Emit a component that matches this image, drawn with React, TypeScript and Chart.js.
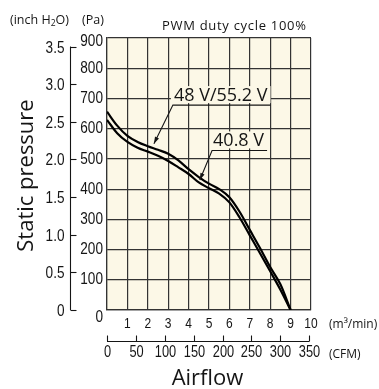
import React, { useEffect, useRef } from 'react';
import { Chart, registerables } from 'chart.js';

Chart.register(...registerables);

// ---------- data ----------
const airflow = [0, 0.5, 1, 1.5, 2, 2.5, 3, 3.5, 4, 4.5, 5, 5.5, 6, 6.5, 7, 7.5, 8, 8.5, 9];
const pressure48V = [656, 610, 576, 556, 542, 530, 517, 495, 466, 440, 418, 400, 373, 325, 265, 205, 142, 85, 0];
const pressure40V = [629, 585, 556, 537, 524, 510, 493, 472, 450, 422, 403, 385, 356, 306, 247, 188, 128, 67, 0];
const seriesNames = ['48 V/55.2 V', '40.8 V'];

const paTicks = [0, 100, 200, 300, 400, 500, 600, 700, 800, 900];
const airflowTicks = [1, 2, 3, 4, 5, 6, 7, 8, 9, 10];
const inchTicks = [0, 0.5, 1, 1.5, 2, 2.5, 3, 3.5];
const cfmTicks = [0, 50, 100, 150, 200, 250, 300, 350];

const PA_PER_INCH = 249.089;
const CFM_PER_M3MIN = 35.3147;

const titleText = 'PWM duty cycle 100%';
const yAxisTitle = 'Static pressure';
const xAxisTitle = 'Airflow';

// annotation anchors (data coordinates): label underline start, arrow tip
const annot48 = { lx: 3.23, ly: 678, tx: 2.3, ty: 550 };
const annot40 = { lx: 5.15, ly: 528, tx: 4.55, ty: 430 };

// ---------- styles ----------
const NARROW_BASE = "'Liberation Sans', Arial, sans-serif";
const SANS = "'Open Sans', 'Liberation Sans', sans-serif";
const GRID = '#333333';
const INK = '#151515';
const CREAM = '#fcf8e7';

function narrowText(ctx: any, text: string, x: number, y: number, size: number, align: string) {
  ctx.save();
  ctx.font = `${size}px ${NARROW_BASE}`;
  ctx.textAlign = align;
  ctx.textBaseline = 'middle';
  ctx.translate(x, y);
  ctx.scale(0.8, 1);
  ctx.fillText(text, 0, 0);
  ctx.restore();
}

const decorPlugin = {
  id: 'decor',
  beforeDraw(chart: any) {
    const { ctx, chartArea: a } = chart;
    ctx.save();
    ctx.fillStyle = '#ffffff';
    ctx.fillRect(0, 0, chart.width, chart.height);
    ctx.fillStyle = CREAM;
    ctx.fillRect(a.left, a.top, a.right - a.left, a.bottom - a.top);
    ctx.restore();
  },
  afterDatasetsDraw(chart: any) {
    const { ctx } = chart;
    const x = chart.scales.x;
    const y = chart.scales.y;
    ctx.save();
    const drawAnnot = (an: any, text: string) => {
      const ux = x.getPixelForValue(an.lx);
      const uy = y.getPixelForValue(an.ly);
      const tx = x.getPixelForValue(an.tx);
      const ty = y.getPixelForValue(an.ty);
      ctx.font = `18px ${SANS}`;
      const w = ctx.measureText(text).width;
      ctx.fillStyle = CREAM;
      ctx.fillRect(ux - 2, uy - 19, w + 6, 17);
      ctx.fillStyle = INK;
      ctx.textAlign = 'left';
      ctx.textBaseline = 'alphabetic';
      ctx.fillText(text, ux + 1, uy - 4.5);
      ctx.strokeStyle = INK;
      ctx.lineWidth = 1.1;
      ctx.beginPath();
      ctx.moveTo(ux + w + 4, uy);
      ctx.lineTo(ux, uy);
      ctx.lineTo(tx, ty);
      ctx.stroke();
      const ang = Math.atan2(ty - uy, tx - ux);
      const L = 7, H = 2.2;
      ctx.beginPath();
      ctx.moveTo(tx, ty);
      ctx.lineTo(tx - L * Math.cos(ang) + H * Math.sin(ang), ty - L * Math.sin(ang) - H * Math.cos(ang));
      ctx.lineTo(tx - L * Math.cos(ang) - H * Math.sin(ang), ty - L * Math.sin(ang) + H * Math.cos(ang));
      ctx.closePath();
      ctx.fill();
    };
    drawAnnot(annot48, seriesNames[0]);
    drawAnnot(annot40, seriesNames[1]);
    ctx.restore();
  },
  afterDraw(chart: any) {
    const { ctx } = chart;
    const x = chart.scales.x;
    const y = chart.scales.y;
    ctx.save();
    ctx.fillStyle = INK;
    ctx.strokeStyle = INK;
    ctx.lineWidth = 1.1;

    // Pa tick labels (end labels nudged inward as in the original)
    paTicks.forEach((v, i) => {
      let py = y.getPixelForValue(v);
      if (i === 0) py += 7.5;
      if (i === paTicks.length - 1) py += 3.5;
      narrowText(ctx, String(v), x.left - 4, py, 17, 'right');
    });

    // airflow tick labels
    airflowTicks.forEach((v) => {
      narrowText(ctx, String(v), x.getPixelForValue(v), 323.5, 15, 'center');
    });

    // inch H2O axis
    const axX = 70.5;
    const yTop = y.getPixelForValue(inchTicks[inchTicks.length - 1] * PA_PER_INCH);
    const yBot = y.getPixelForValue(0);
    ctx.beginPath();
    ctx.moveTo(axX, yTop);
    ctx.lineTo(axX, yBot);
    ctx.stroke();
    inchTicks.forEach((v) => {
      const py = Math.round(y.getPixelForValue(v * PA_PER_INCH)) + 0.5;
      ctx.beginPath();
      ctx.moveTo(axX, py);
      ctx.lineTo(axX + 6, py);
      ctx.stroke();
      narrowText(ctx, v === 0 ? '0' : v.toFixed(1), 64.5, py + 0.5, 17, 'right');
    });

    // CFM axis
    const cy = 341.5;
    const cx0 = x.getPixelForValue(0);
    const cx1 = x.getPixelForValue(cfmTicks[cfmTicks.length - 1] / CFM_PER_M3MIN);
    ctx.beginPath();
    ctx.moveTo(cx0, cy);
    ctx.lineTo(cx1, cy);
    ctx.stroke();
    cfmTicks.forEach((v) => {
      const px = Math.round(x.getPixelForValue(v / CFM_PER_M3MIN)) + 0.5;
      ctx.beginPath();
      ctx.moveTo(px, cy);
      ctx.lineTo(px, cy - 6);
      ctx.stroke();
      narrowText(ctx, String(v), px, 352.5, 16, 'center');
    });

    // unit labels
    ctx.textBaseline = 'alphabetic';
    ctx.textAlign = 'left';
    ctx.font = `12px ${SANS}`;
    ctx.fillText('(m\u00B3/min)', 329, 328);
    ctx.fillText('(CFM)', 329, 358);

    // top-left units
    ctx.font = `12.5px ${SANS}`;
    let cx = 10;
    ctx.fillText('(inch H', cx, 24);
    cx += ctx.measureText('(inch H').width;
    ctx.font = `8.5px ${SANS}`;
    ctx.fillText('2', cx, 26);
    cx += ctx.measureText('2').width;
    ctx.font = `12.5px ${SANS}`;
    ctx.fillText('O)', cx, 24);
    ctx.fillText('(Pa)', 82, 24);

    // title
    ctx.font = `13px ${SANS}`;
    (ctx as any).letterSpacing = '0.7px';
    ctx.fillText(titleText, 162, 29.5);
    (ctx as any).letterSpacing = '0px';

    // axis titles
    ctx.font = `22px ${SANS}`;
    ctx.textAlign = 'center';
    ctx.fillText(xAxisTitle, 207.5, 384.5);
    ctx.translate(33, 175.5);
    ctx.rotate(-Math.PI / 2);
    ctx.fillText(yAxisTitle, 0, 0);
    ctx.restore();
  },
};

export default function App() {
  const ref = useRef<HTMLCanvasElement>(null);
  useEffect(() => {
    if (!ref.current) return;
    const chart = new Chart(ref.current, {
      type: 'line',
      data: {
        datasets: [
          {
            label: seriesNames[0],
            data: airflow.map((v, i) => ({ x: v, y: pressure48V[i] })),
            borderColor: '#000',
            borderWidth: 2.2,
            pointRadius: 0,
            cubicInterpolationMode: 'monotone',
            fill: false,
          },
          {
            label: seriesNames[1],
            data: airflow.map((v, i) => ({ x: v, y: pressure40V[i] })),
            borderColor: '#000',
            borderWidth: 2.2,
            pointRadius: 0,
            cubicInterpolationMode: 'monotone',
            fill: false,
          },
        ],
      },
      options: {
        responsive: false,
        animation: false,
        events: [],
        layout: { padding: { top: 38, right: 68, left: 0, bottom: 0 } },
        plugins: {
          legend: { display: false },
          tooltip: { enabled: false },
          title: { display: false },
        },
        scales: {
          x: {
            type: 'linear',
            min: 0,
            max: 10,
            afterFit: (s: any) => { s.height = 79; },
            afterBuildTicks: (s: any) => { s.ticks = [0, ...airflowTicks].map((v) => ({ value: v })); },
            ticks: { display: false, autoSkip: false },
            grid: { color: GRID, lineWidth: 1.2, drawTicks: false },
            border: { color: GRID, width: 1.2 },
          },
          y: {
            type: 'linear',
            min: 0,
            max: 900,
            afterFit: (s: any) => { s.width = 107; },
            afterBuildTicks: (s: any) => { s.ticks = paTicks.map((v) => ({ value: v })); },
            ticks: { display: false, autoSkip: false },
            grid: { color: GRID, lineWidth: 1.2, drawTicks: false },
            border: { color: GRID, width: 1.2 },
          },
        },
      } as any,
      plugins: [decorPlugin],
    });
    return () => chart.destroy();
  }, []);
  return (
    <div style={{ position: 'fixed', left: 0, top: 0, width: 379, height: 389, background: '#fff' }}>
      <canvas ref={ref} width={379} height={389} style={{ display: 'block' }} />
    </div>
  );
}
